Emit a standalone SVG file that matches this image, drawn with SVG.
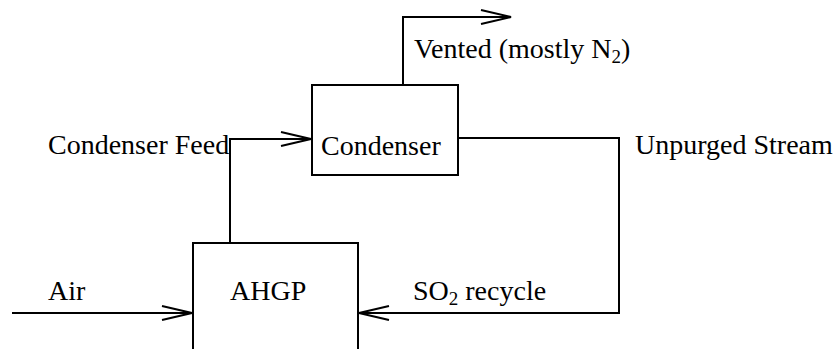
<svg xmlns="http://www.w3.org/2000/svg" width="835" height="349" viewBox="0 0 835 349">
<defs>
<style>
text{font-family:"Liberation Serif","Times New Roman",serif;font-size:28px;fill:#000}
.box{fill:#fff;stroke:#000;stroke-width:2}
.ln{fill:none;stroke:#000;stroke-width:2}
.sub{font-size:19px}
</style>
<marker id="ah" markerUnits="userSpaceOnUse" viewBox="-31 -8 33 16" refX="0" refY="0" markerWidth="33" markerHeight="16" orient="auto" overflow="visible">
<path d="M-30,-7 L0,0 L-30,7" fill="none" stroke="#000" stroke-width="2"/>
</marker>
</defs>
<rect width="835" height="349" fill="#fff"/>
<g id="connectors">
<path class="ln" d="M403,85 V17 H511" marker-end="url(#ah)"/>
<path class="ln" d="M230,243 V139 H311" marker-end="url(#ah)"/>
<path class="ln" d="M458,138 H619 V313 H359" marker-end="url(#ah)"/>
<path class="ln" d="M12,313 H192" marker-end="url(#ah)"/>
</g>
<g id="condenser">
<rect class="box" x="312" y="85" width="146" height="90"/>
<text x="321" y="155">Condenser</text>
</g>
<g id="ahgp">
<rect class="box" x="193" y="243" width="165" height="120"/>
<text x="230" y="300">AHGP</text>
</g>
<g id="labels">
<text x="414" y="58">Vented (mostly N<tspan class="sub" dy="5">2</tspan><tspan dy="-5">)</tspan></text>
<text x="48" y="154">Condenser Feed</text>
<text x="635" y="154">Unpurged Stream</text>
<text x="48" y="300">Air</text>
<text x="413" y="300">SO<tspan class="sub" dy="5">2</tspan><tspan dy="-5"> recycle</tspan></text>
</g>
</svg>
